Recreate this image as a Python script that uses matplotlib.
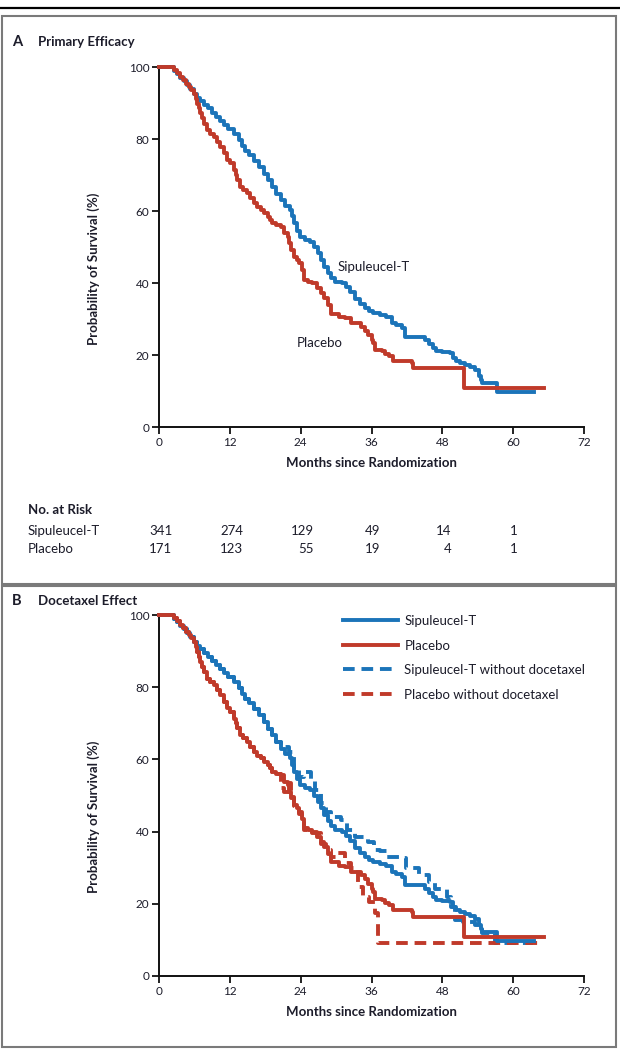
import matplotlib
matplotlib.use("Agg")
import matplotlib.pyplot as plt
from matplotlib.patches import Rectangle
from matplotlib.lines import Line2D
from matplotlib.transforms import blended_transform_factory

plt.rcParams['font.family'] = ['Lato', 'DejaVu Sans']

# ---------------- data ----------------
sip_t = [0, 1.9, 2.5, 3.0, 3.6, 4.2, 4.8, 5.3, 5.9, 6.4, 7.0, 7.6, 8.3, 9.0, 9.6, 10.3, 11.0, 11.7,
         12.7, 13.5, 14.0, 14.5, 15.3, 16.1, 16.9, 17.8, 18.4, 19.2, 19.9, 20.6, 21.3, 22.2, 22.6,
         22.9, 23.4, 23.9, 24.7, 25.5, 26.2, 26.9, 27.4, 28.0, 28.6, 29.2, 29.9, 31.0, 31.6, 32.4,
         33.2, 34.0, 34.9, 35.6, 36.3, 37.5, 38.5, 39.4, 40.2, 41.1, 41.7, 44.5, 45.1, 45.7, 46.4,
         47.0, 48.0, 49.3, 49.8, 50.3, 51.0, 51.9, 52.7, 53.6, 54.2, 54.5, 54.8, 57.3, 63.6]
sip_s = [100, 100, 99, 98, 97, 96, 95, 94, 92.5, 91.5, 90.5, 89.5, 88.5, 87.3, 86.2, 85, 84, 82.8,
         81.5, 79.7, 78, 76.8, 75.5, 74, 72.3, 70.4, 68.5, 66.7, 64.8, 63, 61.5, 60.3, 58.5,
         56.6, 54.5, 52.9, 52, 51.5, 50, 48.2, 46.5, 44.5, 42.8, 41.5, 40.4, 40.0, 38.8, 37.5,
         35.5, 34.2, 33.0, 32.2, 31.6, 31.0, 30.5, 28.8, 28.2, 27.5, 25.1, 25.1, 24.2, 23.0, 22.0,
         21.0, 20.7, 20.5, 19.2, 18.2, 17.8, 17.3, 16.6, 15.9, 14.2, 13.1, 12.2, 9.6, 9.6]

pla_t = [0, 1.9, 2.5, 3.0, 3.6, 4.1, 4.6, 5.0, 5.5, 5.9, 6.2, 6.4, 6.7, 7.0, 7.3, 7.6, 8.1, 8.7,
         9.3, 9.8, 10.4, 11.0, 11.5, 12.1, 12.7, 13.0, 13.2, 13.8, 14.3, 14.9, 15.5, 16.1, 16.6,
         17.2, 17.8, 18.4, 18.8, 19.2, 19.9, 20.6, 21.2, 21.8, 22.1, 22.3, 22.9, 23.4, 23.8, 24.3,
         24.6, 25.3, 26.0, 26.7, 27.4, 28.0, 28.6, 29.2, 30.5, 31.5, 32.6, 34.3, 34.9, 35.4, 36.0,
         36.3, 36.6, 37.7, 38.3, 38.9, 39.7, 42.8, 43.1, 51.7, 65.3]
pla_s = [100, 100, 99.2, 98.2, 97.3, 96.3, 95.4, 94.5, 93.5, 92.6, 91.2, 89.8, 88.5, 87.1, 85.7,
         84.3, 82.4, 81.5, 80.6, 79.2, 77.8, 76, 74.1, 73.2, 71.3, 70, 68.6, 66.7, 65.8, 64.9,
         63.5, 62.1, 61, 60.3, 59.4, 58.4, 57.5, 56.6, 56, 55.6, 53.8, 52.9, 51, 49.2, 47.3, 46.5,
         45.5, 43.6, 40.9, 40.4, 39.9, 38.5, 37.2, 35.8, 33.8, 31.5, 30.5, 30.2, 28.8, 27.9, 26.8,
         25.6, 24.2, 23.3, 21.4, 21, 20.3, 19.6, 18.2, 17.7, 16.4, 10.8, 10.8]

sip_nodoc_t = [0, 1.9, 2.5, 3.0, 3.6, 4.2, 4.8, 5.3, 5.9, 6.4, 7.0, 7.6, 8.3, 9.0, 9.6, 10.3, 11.0,
               11.7, 12.7, 13.5, 14.0, 14.5, 15.3, 16.1, 16.9, 17.8, 18.4, 19.2, 19.9, 20.6,
               22.0, 22.9, 23.8, 24.5, 25.8, 26.5, 27.4, 28.3, 29.2, 30.9, 31.8,
               33.2, 35.4, 36.5, 37.5, 38.6, 41.1, 41.9, 44.0, 45.7, 46.8, 48.8, 49.5, 50.2, 51.5,
               53.5, 54.8, 57.0, 63.3]
sip_nodoc_s = [100, 100, 99, 98, 97, 96, 95, 94, 92.5, 91.5, 90.5, 89.5, 88.5, 87.3, 86.2, 85, 84,
               82.8, 81.5, 79.7, 78, 76.8, 75.5, 74, 72.3, 70.4, 68.5, 66.7, 64.8, 63.5,
               62, 58, 55, 56.5, 54.3, 51.5, 48, 45.5, 44.1, 43.2, 40.5,
               38.6, 37.2, 35, 34.5, 33, 32.6, 30, 28, 26.1, 24, 22, 19, 15.5, 15,
               14, 11.9, 9.1, 9.1]

pla_nodoc_t = [0, 1.9, 2.5, 3.0, 3.6, 4.1, 4.6, 5.0, 5.5, 5.9, 6.2, 6.4, 6.7, 7.0, 7.3, 7.6, 8.1,
               8.7, 9.3, 9.8, 10.4, 11.0, 11.5, 12.1, 12.7, 13.0, 13.2, 13.8, 14.3, 14.9, 15.5,
               16.1, 16.6, 17.2, 17.8, 18.4, 18.8, 19.2, 19.9, 20.6, 21.2, 22.0, 22.3, 22.9, 23.8,
               24.3, 24.6, 26.0, 27.4, 28.3, 29.2, 30.3, 31.5, 32.5, 33.7, 34.6, 35.5, 36.6, 37.1,
               64.7]
pla_nodoc_s = [100, 100, 99.2, 98.2, 97.3, 96.3, 95.4, 94.5, 93.5, 92.6, 91.2, 89.8, 88.5, 87.1,
               85.7, 84.3, 82.4, 81.5, 80.6, 79.2, 77.8, 76, 74.1, 73.2, 71.3, 70, 68.6, 66.7,
               65.8, 64.9, 63.5, 62.1, 61, 60.3, 59.4, 58.4, 57.5, 56.6, 56, 52, 51, 53.5, 49.5,
               47, 45, 43, 40.5, 39.5, 36.5, 35, 33, 34, 31.2, 30, 24.7, 22, 20.5, 17.4, 9.1, 9.1]

x_ticks = [0, 12, 24, 36, 48, 60, 72]
y_ticks = [0, 20, 40, 60, 80, 100]
risk_times = [0, 12, 24, 36, 48, 60]
risk_sip = [341, 274, 129, 49, 14, 1]
risk_pla = [171, 123, 55, 19, 4, 1]

BLUE = '#1b74b9'
RED = '#c03a2a'
TXT = '#1c1c2a'
LW = 2.8

fig = plt.figure(figsize=(6.2, 10.5), dpi=100)

# frames
fig.add_artist(Line2D([0, 1], [1 - 8 / 1050, 1 - 8 / 1050], transform=fig.transFigure,
                      color='black', lw=1.6))
fig.add_artist(Rectangle((2 / 620, 1 - 584 / 1050), 614 / 620, 568 / 1050,
                         transform=fig.transFigure, fill=False, ec='#7a7a7a', lw=1.5))
fig.add_artist(Rectangle((2 / 620, 1 - 1047 / 1050), 614 / 620, 461 / 1050,
                         transform=fig.transFigure, fill=False, ec='#7a7a7a', lw=1.5))


def style_axes(ax):
    ax.set_xlim(0, 72)
    ax.set_ylim(0, 100)
    ax.set_xticks(x_ticks)
    ax.set_yticks(y_ticks)
    for s in ['top', 'right']:
        ax.spines[s].set_visible(False)
    for s in ['left', 'bottom']:
        ax.spines[s].set_linewidth(1.4)
        ax.spines[s].set_color('#111111')
    ax.tick_params(direction='out', length=5, width=1.3, labelsize=8.5, labelcolor=TXT,
                   color='#111111', pad=2)
    ax.set_xlabel('Months since Randomization', fontsize=9.5, fontweight='bold', color=TXT,
                  labelpad=7)
    ax.set_ylabel('Probability of Survival (%)', fontsize=9.5, fontweight='bold', color=TXT,
                  labelpad=8)
    ax.yaxis.set_label_coords(-0.14, 0.44)


# ---------- Panel A ----------
axA = fig.add_axes([159 / 620, 1 - 427 / 1050, 425 / 620, 360 / 1050])
axA.step(sip_t, sip_s, where='post', color=BLUE, lw=LW, clip_on=False, zorder=3)
axA.step(pla_t, pla_s, where='post', color=RED, lw=LW, clip_on=False, zorder=4)
style_axes(axA)
axA.text(30.3, 44.5, 'Sipuleucel-T', fontsize=9.5, color=TXT, ha='left', va='center')
axA.text(23.4, 23.4, 'Placebo', fontsize=9.5, color=TXT, ha='left', va='center')

fig.text(12 / 620, 1 - 42 / 1050, 'A', fontsize=10.5, fontweight='bold', color=TXT, va='center')
fig.text(38 / 620, 1 - 42 / 1050, 'Primary Efficacy', fontsize=9.5, fontweight='bold', color=TXT,
         va='center')

# at-risk table
tr = blended_transform_factory(axA.transData, fig.transFigure)
fig.text(28 / 620, 1 - 510 / 1050, 'No. at Risk', fontsize=9.5, fontweight='bold', color=TXT,
         va='center')
fig.text(28 / 620, 1 - 531 / 1050, 'Sipuleucel-T', fontsize=9.5, color=TXT, va='center')
fig.text(28 / 620, 1 - 549 / 1050, 'Placebo', fontsize=9.5, color=TXT, va='center')
for t, a, b in zip(risk_times, risk_sip, risk_pla):
    xr = t + 0.75 * len(str(a))
    axA.text(xr, 1 - 531 / 1050, str(a), transform=tr, fontsize=9.5, color=TXT, ha='right',
             va='center')
    axA.text(xr, 1 - 549 / 1050, str(b), transform=tr, fontsize=9.5, color=TXT, ha='right',
             va='center')

# ---------- Panel B ----------
axB = fig.add_axes([159 / 620, 1 - 976 / 1050, 425 / 620, 361 / 1050])
dash = (3.0, 1.75)
axB.step(sip_nodoc_t, sip_nodoc_s, where='post', color=BLUE, lw=LW, dashes=dash, clip_on=False,
         zorder=3, label='Sipuleucel-T without docetaxel')
axB.step(pla_nodoc_t, pla_nodoc_s, where='post', color=RED, lw=LW, dashes=dash, clip_on=False,
         zorder=4, label='Placebo without docetaxel')
axB.step(sip_t, sip_s, where='post', color=BLUE, lw=LW, clip_on=False, zorder=5,
         label='Sipuleucel-T')
axB.step(pla_t, pla_s, where='post', color=RED, lw=LW, clip_on=False, zorder=6, label='Placebo')
style_axes(axB)
h, l = axB.get_legend_handles_labels()
order = [2, 3, 0, 1]
leg = axB.legend([h[i] for i in order], [l[i] for i in order], loc='upper left',
                 bbox_to_anchor=(0.433, 1.0), frameon=False, fontsize=9.5, handlelength=4.2,
                 handletextpad=0.45, labelspacing=0.95, borderpad=0, borderaxespad=0)
for t in leg.get_texts():
    t.set_color(TXT)

fig.text(12 / 620, 1 - 601 / 1050, 'B', fontsize=10.5, fontweight='bold', color=TXT, va='center')
fig.text(38 / 620, 1 - 601 / 1050, 'Docetaxel Effect', fontsize=9.5, fontweight='bold', color=TXT,
         va='center')

fig.savefig('out.png', dpi=100)
